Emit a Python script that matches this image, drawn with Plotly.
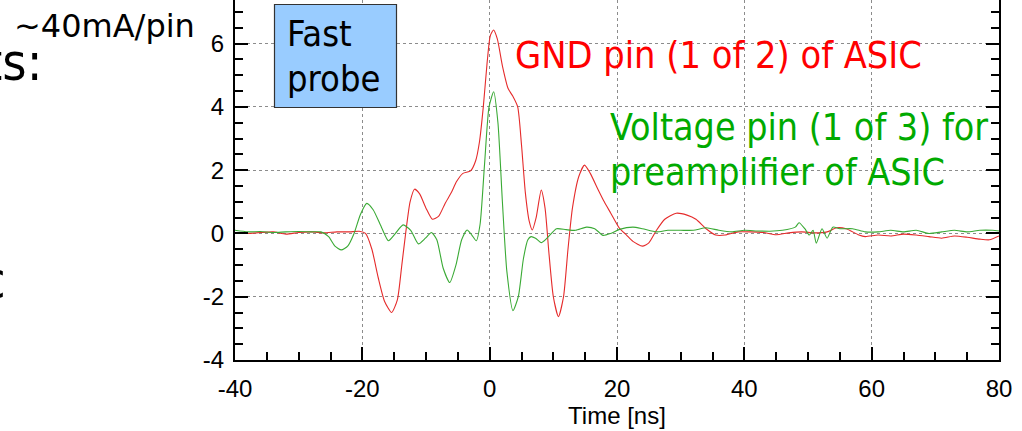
import plotly.graph_objects as go

# ---------------- data ----------------
gnd_t = [-40, -38, -36, -34, -32, -30, -28, -26, -24, -22, -20.5, -19.5, -18.5, -17.5,
         -16.5, -15.4, -14.5, -13.8, -13.2, -12.5, -11.8, -11, -10, -9, -8, -7, -6,
         -5.2, -4.2, -3.0, -2.2, -1.6, -1.0, -0.4, 0.1, 0.6, 1.2, 2.0, 2.9, 3.6, 4.4,
         5.0, 5.6, 6.2, 6.7, 7.3, 8.1, 8.7, 9.3, 10.0, 10.8, 11.6, 12.3, 13.0, 14.0,
         14.9, 15.8, 17.0, 18.0, 19.0, 20.4, 21.5, 22.5, 24.0, 25.0, 26.2, 27.5, 29.3,
         31, 32.4, 34, 35.5, 37, 39, 41, 43, 45, 47, 49, 51, 53, 54.5, 56, 58, 59, 61,
         63, 65, 67, 69, 71, 73, 75, 77, 78.5, 80]
gnd_v = [0.03, 0.0, 0.03, 0.05, -0.02, 0.03, 0.05, 0.02, 0.05, 0.05, 0.07, 0.0, -0.5, -1.4,
         -2.15, -2.5, -2.1, -1.0, 0.0, 1.0, 1.4, 1.25, 0.8, 0.45, 0.55, 0.95, 1.3,
         1.64, 1.9, 1.98, 2.3, 2.9, 4.0, 5.4, 6.25, 6.43, 6.15, 5.3, 4.58, 4.35, 4.0,
         2.8, 1.3, 0.4, 0.11, 0.5, 1.37, 0.8, -0.6, -2.0, -2.63, -2.0, -0.5, 0.8, 1.8,
         2.16, 1.9, 1.4, 1.0, 0.65, 0.16, -0.05, -0.25, -0.4, -0.3, 0.1, 0.45, 0.64,
         0.58, 0.45, 0.15, -0.05, -0.05, 0.05, 0.05, 0.03, -0.04, 0.02, 0.05, 0.02, 0.05,
         0.18, 0.15, -0.05, -0.1, -0.05, -0.08, -0.02, -0.05, -0.1, -0.15, -0.08, -0.12,
         -0.18, -0.2, -0.08]

vdd_t = [-40, -38, -36, -34, -32, -30, -28, -26.5, -25.3, -24.3, -23.3, -22.3, -21.3,
         -20.3, -19.3, -18.3, -17, -15.9, -14.8, -13.6, -12.4, -11.2, -10.1, -9.15, -8.3,
         -7.3, -6.27, -5.3, -4.4, -3.55, -2.8, -2.1, -1.5, -0.8, -0.1, 0.63, 1.3, 2.0,
         2.7, 3.66, 4.5, 5.3, 6.0, 6.5, 7.2, 8.1, 9.0, 10.5, 12, 13.5, 15.2, 16.5, 17.8,
         19, 20.4, 22.5, 24, 26.2, 28, 30, 32, 34, 36, 38, 40, 42, 44, 46, 48, 48.6,
         49.5, 50.2, 50.8, 51.3, 52.2, 53.0, 53.9, 55, 57, 59, 61, 63, 65, 67, 69, 71,
         73, 75, 77, 79, 80]
vdd_v = [0.1, 0.05, 0.06, 0.03, 0.05, 0.06, 0.05, 0.05, -0.1, -0.4, -0.52, -0.4, 0.0,
         0.6, 0.95, 0.75, 0.2, -0.23, 0.0, 0.27, 0.1, -0.33, -0.15, 0.03, -0.2,
         -1.1, -1.55, -1.0, -0.2, 0.11, -0.05, -0.23, 0.3, 2.2, 4.0, 4.48, 3.5, 1.0,
         -1.2, -2.44, -2.0, -0.8, -0.2, -0.1, -0.15, -0.29, -0.15, 0.15, 0.12, 0.1, 0.2,
         0.15, -0.06, 0.0, 0.13, 0.2, 0.15, 0.05, 0.1, 0.1, 0.1, 0.18, 0.1, 0.05, 0.1,
         0.08, 0.07, 0.1, 0.2, 0.34, 0.15, -0.05, 0.1, -0.31, 0.15, -0.15, 0.2, 0.15,
         0.15, 0.05, 0.05, 0.1, 0.05, 0.1, 0.0, 0.05, 0.1, 0.05, 0.1, 0.1, 0.08]

x_ticks = [-40, -20, 0, 20, 40, 60, 80]
x_ticktext = ["-40", "-20", "0", "20", "40", "60", "80"]
y_ticks = [-4, -2, 0, 2, 4, 6]
y_ticktext = ["-4", "-2", "0", "2", "4", "6"]
x_title = "Time [ns]"
gnd_label = "GND pin (1 of 2) of ASIC"
vdd_label = ["Voltage pin (1 of 3) for", "preamplifier of ASIC"]
box_label = ["Fast", "probe"]
slide_texts = ["~40mA/pin", "ts:", "c"]

# ---------------- layout geometry ----------------
FW, FH = 1022, 431
L, R, T, B = 235, 23, 0, 71
PW, PH = FW - L - R, FH - T - B


def px(x):
    return (x - L) / PW


def py(y):
    return (T + PH - y) / PH


fig = go.Figure()
fig.add_trace(go.Scatter(x=gnd_t, y=gnd_v, mode="lines",
                         line=dict(color="#e52b2b", width=1.1, shape="spline", smoothing=0.6),
                         hoverinfo="skip"))
fig.add_trace(go.Scatter(x=vdd_t, y=vdd_v, mode="lines",
                         line=dict(color="#3aaa35", width=1.1, shape="spline", smoothing=0.6),
                         hoverinfo="skip"))

tickfont = dict(family="Liberation Sans, Arial, sans-serif", size=24, color="black")
axis_common = dict(showline=True, linecolor="black", linewidth=2,
                   ticks="inside", tickcolor="black", tickwidth=2, ticklen=13,
                   showgrid=True, gridcolor="#8c8c8c", gridwidth=1, griddash="dot",
                   zeroline=False, tickfont=tickfont)

fig.update_xaxes(range=[-40, 80], tickvals=x_ticks, ticktext=x_ticktext, mirror=False,
                 minor=dict(dtick=5, ticks="inside", ticklen=8, tickwidth=2,
                            tickcolor="black", showgrid=False),
                 title=dict(text=x_title, font=tickfont, standoff=2),
                 ticklabelstandoff=6, **axis_common)
fig.update_yaxes(range=[-4, 7.38], tickvals=y_ticks, ticktext=y_ticktext, mirror="ticks",
                 minor=dict(dtick=0.5, ticks="inside", ticklen=8, tickwidth=2,
                            tickcolor="black", showgrid=False),
                 ticklabelstandoff=4, **axis_common)

# Fast probe box
fig.add_shape(type="rect", xref="paper", yref="paper",
              x0=px(274.5), x1=px(396.5), y0=py(107.5), y1=py(4.5),
              fillcolor="#99ccff", line=dict(color="#333333", width=1.2), layer="above")

slide_font = "DejaVu Sans Condensed, Liberation Sans, sans-serif"
ann = []
ann.append(dict(text=box_label[0], x=px(285), y=py(33), xanchor="left", yanchor="middle",
                font=dict(family=slide_font, size=36, color="black")))
ann.append(dict(text=box_label[1], x=px(285), y=py(78), xanchor="left", yanchor="middle",
                font=dict(family=slide_font, size=36, color="black")))
ann.append(dict(text=gnd_label, x=px(513), y=py(55), xanchor="left", yanchor="middle",
                font=dict(family=slide_font, size=37.6, color="#ff0000")))
ann.append(dict(text=vdd_label[0], x=px(608), y=py(127), xanchor="left", yanchor="middle",
                font=dict(family=slide_font, size=37.3, color="#00aa00")))
ann.append(dict(text=vdd_label[1], x=px(608), y=py(172), xanchor="left", yanchor="middle",
                font=dict(family=slide_font, size=37.3, color="#00aa00")))
ann.append(dict(text=slide_texts[0], x=px(12), y=py(26), xanchor="left", yanchor="middle",
                font=dict(family="DejaVu Sans, sans-serif", size=32, color="black")))
ann.append(dict(text=slide_texts[1], x=px(44), y=py(62), xanchor="right", yanchor="middle",
                font=dict(family=slide_font, size=52, color="black")))
ann.append(dict(text=slide_texts[2], x=px(8), y=py(280), xanchor="right", yanchor="middle",
                font=dict(family=slide_font, size=52, color="black")))
for a in ann:
    a.update(xref="paper", yref="paper", showarrow=False)
fig.update_layout(annotations=ann)

fig.update_layout(width=FW, height=FH, margin=dict(l=L, r=R, t=T, b=B, pad=0),
                  paper_bgcolor="white", plot_bgcolor="white", showlegend=False)

fig.write_html("out.html")
